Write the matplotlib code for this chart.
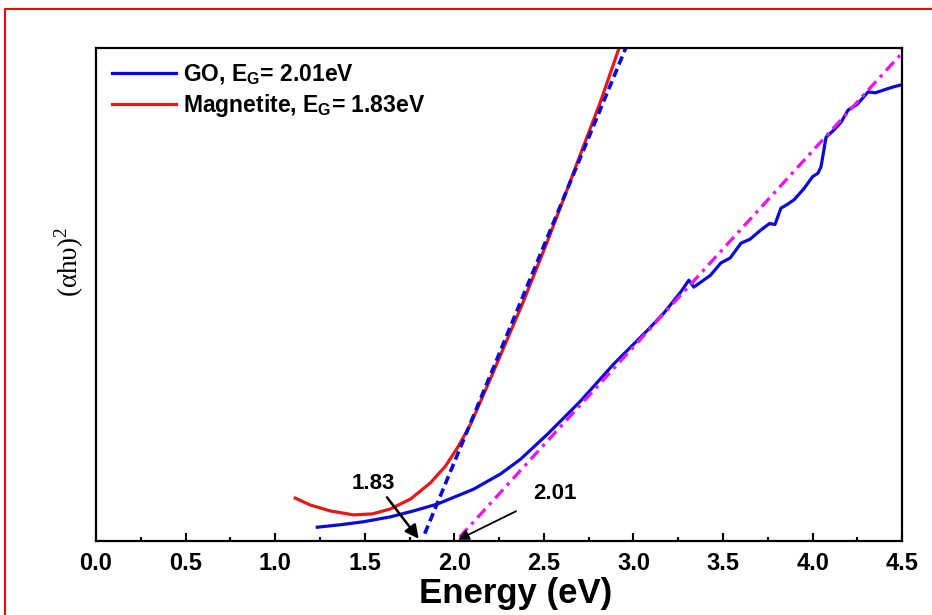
import matplotlib
matplotlib.use("Agg")
import matplotlib.pyplot as plt
from matplotlib.patches import Rectangle

plt.rcParams['font.family'] = ['Liberation Sans', 'DejaVu Sans']
plt.rcParams['mathtext.fontset'] = 'custom'
plt.rcParams['mathtext.rm'] = 'Liberation Serif'
plt.rcParams['mathtext.bf'] = 'Liberation Sans:bold'

# GO (alpha h nu)^2, arbitrary units
go_x = [1.235, 1.364, 1.492, 1.643, 1.772, 1.906, 2.107, 2.258, 2.370, 2.521,
        2.705, 2.890, 3.080, 3.169, 3.264, 3.309, 3.337, 3.376, 3.43, 3.488,
        3.54, 3.600, 3.65, 3.712, 3.76, 3.79, 3.823, 3.86, 3.896, 3.95, 4.000,
        4.030, 4.047, 4.075, 4.120, 4.16, 4.198, 4.25, 4.310, 4.35, 4.399,
        4.45, 4.494]
go_y = [2.8, 3.3, 3.9, 4.9, 6.1, 7.5, 10.5, 13.6, 16.6, 21.7,
        28.4, 35.9, 42.8, 46.2, 50.5, 52.9, 51.5, 52.5, 53.9, 56.4,
        57.4, 60.4, 61.2, 63.1, 64.4, 64.2, 67.5, 68.3, 69.2, 71.4, 73.9,
        74.6, 75.9, 81.9, 83.4, 85.0, 87.4, 88.6, 91.1, 90.9, 91.5,
        92.1, 92.5]

# Magnetite
mag_x = [1.112, 1.196, 1.308, 1.437, 1.543, 1.643, 1.755, 1.867, 1.951, 2.024,
         2.091, 2.197, 2.292, 2.387, 2.521, 2.627, 2.711, 2.817, 2.918]
mag_y = [8.7, 7.3, 6.1, 5.3, 5.5, 6.5, 8.5, 11.8, 15.2, 19.3,
         23.7, 32.5, 40.6, 48.7, 60.9, 71.0, 79.1, 89.2, 99.8]

# Tauc fits (linear extrapolations)
fit_mag_x = [1.835, 2.957]
fit_mag_y = [1.5, 100.0]
fit_go_x = [2.03, 4.50]
fit_go_y = [0.8, 99.0]

gap_labels = ['1.83', '2.01']

fig = plt.figure(figsize=(9.32, 6.15), dpi=100)
ax = fig.add_axes([0.103, 0.1203, 0.865, 0.8017])

blue = '#0a0ad8'
red = '#e81818'
magenta = '#e619e6'

ax.plot(go_x, go_y, color=blue, lw=2.3, label=r'GO, E$_\mathbf{G}$= 2.01eV')
ax.plot(mag_x, mag_y, color=red, lw=2.3, label=r'Magnetite, E$_\mathbf{G}$= 1.83eV')
ax.plot(fit_mag_x, fit_mag_y, color=blue, lw=2.6, linestyle=(0, (2.4, 1.3)))
ax.plot(fit_go_x, fit_go_y, color=magenta, lw=2.4, linestyle=(0, (3.5, 1.7, 1.0, 1.7)))

ax.annotate('', xy=(1.811, 0.0), xytext=(1.615, 9.3),
            arrowprops=dict(arrowstyle='-|>', color='black', lw=1.8, mutation_scale=20),
            annotation_clip=False)
ax.text(1.55, 11.6, gap_labels[0], fontsize=16, fontweight='bold', ha='center', va='center')
ax.annotate('', xy=(2.007, 0.0), xytext=(2.359, 6.3),
            arrowprops=dict(arrowstyle='-|>', color='black', lw=1.3, mutation_scale=16),
            annotation_clip=False)
ax.text(2.56, 9.7, gap_labels[1], fontsize=16, fontweight='bold', ha='center', va='center')

ax.set_xlim(0, 4.5)
ax.set_ylim(0, 100)
ax.set_xticks([0.0, 0.5, 1.0, 1.5, 2.0, 2.5, 3.0, 3.5, 4.0, 4.5])
ax.set_xticks([0.25 + 0.5 * i for i in range(9)], minor=True)
ax.set_xticklabels(['%.1f' % v for v in ax.get_xticks()], fontsize=17, fontweight='bold')
ax.set_yticks([])
ax.tick_params(axis='x', which='major', direction='in', length=5.5, width=1.5, pad=8)
ax.tick_params(axis='x', which='minor', direction='in', length=3, width=1.5)
for s in ax.spines.values():
    s.set_linewidth(1.6)

ax.set_xlabel('Energy (eV)', fontsize=25, fontweight='bold')
ax.xaxis.set_label_coords(0.521, -0.073)
ax.set_ylabel(r'(αhυ)$^\mathrm{2}$', fontsize=19.5, family='Liberation Serif')
ax.yaxis.set_label_coords(-0.012, 0.566)

ax.legend(loc='upper left', bbox_to_anchor=(-0.0075, 1.016), frameon=False,
          prop={'weight': 'bold', 'size': 16.5}, handlelength=2.8,
          handletextpad=0.3, labelspacing=0.25, borderpad=0.45)

fig.patches.append(Rectangle((5 / 932, -0.1), 1.2, 1 - 9 / 615 + 0.1,
                             transform=fig.transFigure, fill=False,
                             edgecolor='red', lw=1.5))

fig.savefig('out.png', dpi=100)
